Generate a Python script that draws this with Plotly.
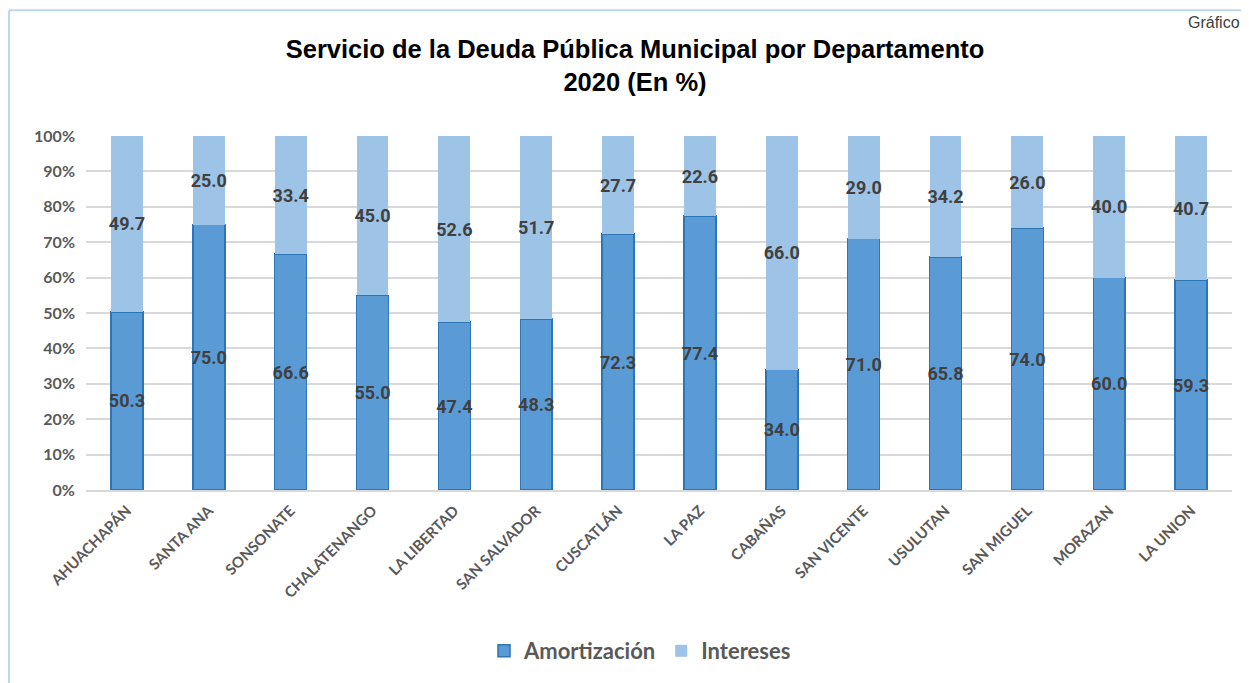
import plotly.graph_objects as go

categories = ["AHUACHAPÁN", "SANTA ANA", "SONSONATE", "CHALATENANGO", "LA LIBERTAD",
              "SAN SALVADOR", "CUSCATLÁN", "LA PAZ", "CABAÑAS", "SAN VICENTE",
              "USULUTAN", "SAN MIGUEL", "MORAZAN", "LA UNION"]
amortizacion = [50.3, 75.0, 66.6, 55.0, 47.4, 48.3, 72.3, 77.4, 34.0, 71.0, 65.8, 74.0, 60.0, 59.3]
intereses = [49.7, 25.0, 33.4, 45.0, 52.6, 51.7, 27.7, 22.6, 66.0, 29.0, 34.2, 26.0, 40.0, 40.7]
y_ticks = [0, 10, 20, 30, 40, 50, 60, 70, 80, 90, 100]
y_tick_labels = [f"{v}%" for v in y_ticks]

# The page body has an 8px margin, so the figure is sized to fit the window.
W, H = 1241, 675
L, R, T, B = 78, 17, 128, 192
PW, PH = W - L - R, H - T - B

label_font = dict(family="Roboto, Lato, sans-serif", size=18, color="#404040", weight="bold")

fig = go.Figure()
fig.add_trace(go.Bar(
    name="Amortización", x=categories, y=amortizacion,
    marker=dict(color="#5B9BD5", line=dict(color="#2E75B6", width=1.5)),
    text=[f"{v:.1f}" for v in amortizacion], textposition="inside",
    insidetextanchor="middle", textangle=0, constraintext="none",
    textfont=label_font, hoverinfo="skip",
))
fig.add_trace(go.Bar(
    name="Intereses", x=categories, y=intereses,
    marker=dict(color="#9DC3E6", line=dict(width=0)),
    text=[f"{v:.1f}" for v in intereses], textposition="inside",
    insidetextanchor="middle", textangle=0, constraintext="none",
    textfont=label_font, hoverinfo="skip",
))

fig.update_layout(
    width=W, height=H,
    barmode="stack", bargap=0.61,
    plot_bgcolor="white", paper_bgcolor="white",
    margin=dict(l=L, r=R, t=T, b=B),
    title=dict(
        text="Servicio de la Deuda Pública Municipal por Departamento<br>2020 (En %)",
        x=(627 - 0) / W, xanchor="center", y=1 - 49.5 / H, yanchor="middle",
        font=dict(family="Liberation Sans Narrow, Arial Narrow, Liberation Sans, sans-serif",
                  size=25.5, color="#000000", weight="bold"),
    ),
    legend=dict(
        orientation="h", x=(632 - L) / PW, xanchor="center", y=-(643 - (T + PH)) / PH, yanchor="middle",
        font=dict(family="Lato, Roboto, sans-serif", size=22, color="#595959", weight="bold"),
        itemwidth=30, traceorder="normal",
    ),
    yaxis=dict(
        range=[0, 100], tickvals=y_ticks, ticktext=y_tick_labels,
        showgrid=True, gridcolor="#D9D9D9", gridwidth=1.5,
        zeroline=False, showline=False,
        tickfont=dict(family="Lato, Roboto, sans-serif", size=16, color="#595959", weight="bold"),
        ticks="", ticklabelstandoff=10,
    ),
    xaxis=dict(
        tickangle=-45, showline=True, linecolor="#D9D9D9", linewidth=2,
        tickfont=dict(family="Lato, Roboto, sans-serif", size=15, color="#595959", weight="bold"),
        ticks="", ticklabelstandoff=4,
    ),
    shapes=[
        dict(type="line", xref="paper", yref="paper",
             x0=(1 - L) / PW, x1=(W - L) / PW,
             y0=(T + PH - 2) / PH, y1=(T + PH - 2) / PH,
             line=dict(color="#BDD7EE", width=2)),
        dict(type="line", xref="paper", yref="paper",
             x0=(1 - L) / PW, x1=(1 - L) / PW,
             y0=(T + PH - 2) / PH, y1=(T + PH - H - 5) / PH,
             line=dict(color="#BDD7EE", width=2)),
    ],
    annotations=[
        dict(text="Gráfico", xref="paper", yref="paper",
             x=(1234 - L) / PW, xanchor="right",
             y=(T + PH - 4) / PH, yanchor="top", showarrow=False,
             font=dict(family="Liberation Sans, Arial, sans-serif", size=16, color="#404040")),
    ],
)

fig.write_html("out.html")
